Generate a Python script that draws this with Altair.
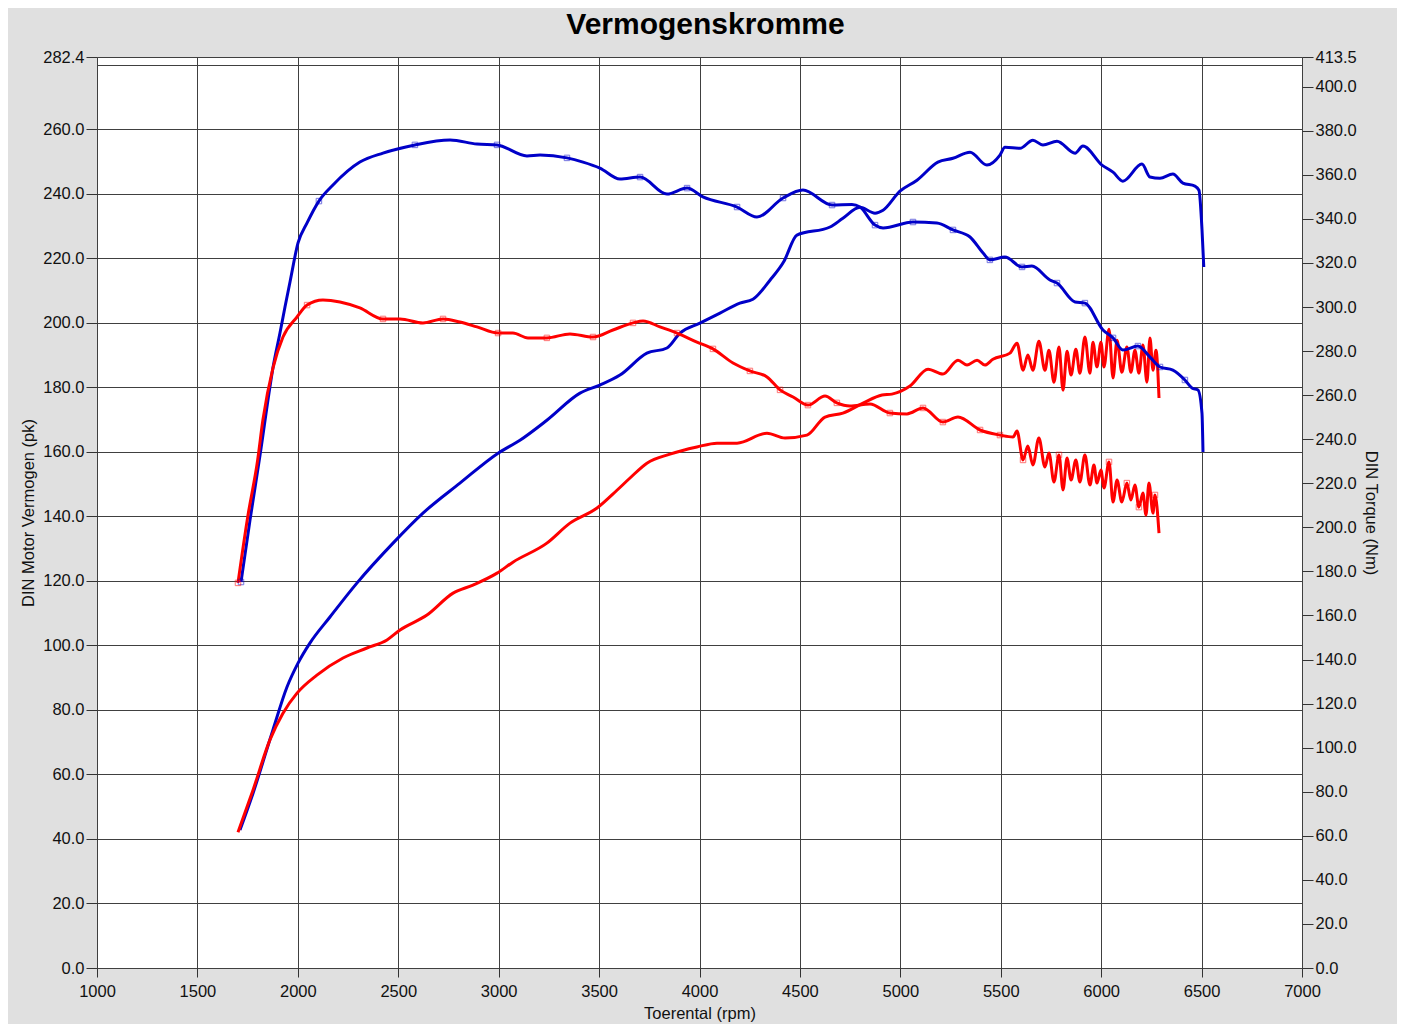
import altair as alt
import pandas as pd

# ---------------- data ----------------
# Blue run - power (pk, left axis)
BLUE_P_RPM = [1712, 1777, 1876, 1946, 2001, 2060, 2160, 2294, 2474, 2623, 2807, 2997, 3106, 3240,
              3405, 3504, 3604, 3738, 3838, 3903, 4002, 4102, 4201, 4266, 4351, 4420, 4485, 4650,
              4714, 4799, 4874, 4914, 4998, 5083, 5187, 5262, 5347, 5431, 5496, 5521, 5596, 5660,
              5710, 5780, 5870, 5909, 6004, 6059, 6108, 6203, 6243, 6293, 6357, 6407, 6467, 6487,
              6502, 6511]
BLUE_P_PK = [42.8, 54.2, 73.8, 87.1, 94.5, 100.7, 108.8, 119.3, 131.7, 141.0, 150.3, 159.6, 163.6, 169.8,
             178.2, 180.7, 183.8, 190.6, 192.2, 196.8, 199.9, 203.0, 206.1, 207.3, 213.2, 219.0, 227.2, 229.7,
             232.4, 235.8, 234.0, 234.9, 240.8, 244.2, 249.8, 251.0, 252.9, 248.9, 252.0, 254.4, 254.1, 256.6,
             255.1, 256.3, 252.6, 254.8, 248.9, 246.7, 243.9, 249.2, 245.2, 244.8, 246.1, 243.3, 242.4, 241.1,
             229.0, 217.3]

# Blue run - torque (Nm, right axis)
BLUE_T_RPM = [1717, 1762, 1812, 1861, 1876, 1911, 1936, 1961, 2001, 2046, 2105, 2175, 2309, 2424, 2583,
              2758, 2892, 2992, 3141, 3206, 3340, 3420, 3504, 3604, 3704, 3838, 3938, 4017, 4187, 4286,
              4416, 4515, 4660, 4759, 4799, 4874, 4914, 5063, 5182, 5262, 5347, 5412, 5446, 5521, 5606,
              5655, 5745, 5780, 5870, 5919, 6009, 6059, 6108, 6183, 6243, 6293, 6357, 6417, 6452, 6482,
              6502, 6507]
BLUE_T_NM = [175.2, 203.4, 232.9, 263.7, 272.3, 288.2, 300.0, 311.4, 329.1, 338.2, 348.1, 355.4, 365.8, 369.9, 373.6,
             375.8, 374.0, 373.6, 368.6, 369.0, 367.7, 365.8, 363.1, 358.1, 359.0, 351.3, 354.0, 350.0, 345.4, 340.9,
             349.5, 353.1, 346.3, 346.6, 345.4, 337.2, 335.9, 338.6, 338.2, 335.0, 331.8, 324.5, 321.4, 322.7, 318.2,
             318.6, 312.3, 310.9, 302.3, 301.8, 289.6, 286.0, 280.5, 282.3, 277.3, 272.8, 271.4, 266.9, 263.3, 262.4,
             251.9, 234.2]
BLUE_T_MARKS = [1717, 2105, 2583, 2992, 3340, 3704, 3938, 4187, 4416, 4660, 4874, 5063, 5262, 5446,
                5606, 5780, 5919, 6059, 6183, 6293, 6417]

# Red run - power (pk, left axis)
RED_P_RPM = [1702, 1777, 1861, 1926, 1996, 2095, 2225, 2344, 2444, 2509, 2643, 2773, 2872, 2992, 3071,
             3240, 3355, 3490, 3589, 3654, 3738, 3853, 3987, 4087, 4187, 4336, 4426, 4535, 4625, 4714,
             4814, 4909, 4958, 5048, 5138, 5212, 5287, 5332, 5382, 5421, 5461, 5546, 5581, 5611, 5635,
             5660, 5690, 5720, 5740, 5765, 5790, 5810, 5830, 5850, 5874, 5894, 5919, 5944, 5959, 5979,
             5999, 6014, 6039, 6059, 6079, 6103, 6128, 6148, 6168, 6188, 6208, 6228, 6243, 6258, 6273,
             6288]
RED_P_PK = [42.1, 55.2, 70.7, 79.0, 85.2, 90.8, 96.1, 99.2, 101.7, 104.8, 109.4, 116.2, 118.7, 122.4, 125.8,
            131.7, 137.9, 142.6, 148.1, 151.9, 156.5, 159.3, 161.5, 162.7, 162.7, 165.8, 164.3, 165.2, 170.8, 172.0,
            175.1, 177.6, 177.9, 180.4, 185.6, 184.1, 188.4, 186.9, 188.4, 186.9, 188.7, 190.6, 193.7, 185.3, 190.0,
            185.3, 194.3, 185.3, 191.5, 181.6, 192.5, 179.1, 191.2, 183.8, 191.8, 184.4, 195.6, 184.4, 194.0, 186.3,
            194.0, 186.3, 198.0, 182.9, 194.6, 184.7, 192.5, 184.7, 191.5, 184.4, 193.1, 181.6, 195.3, 185.3, 191.5,
            176.7]

# Red run - torque (Nm, right axis)
RED_T_RPM = [1702, 1752, 1800, 1826, 1876, 1926, 1996, 2046, 2125, 2210, 2309, 2424, 2509, 2623, 2723,
             2807, 2892, 2997, 3071, 3146, 3240, 3355, 3470, 3569, 3669, 3719, 3803, 3888, 3987, 4067,
             4167, 4251, 4336, 4401, 4466, 4540, 4625, 4684, 4749, 4849, 4948, 5033, 5113, 5212, 5287,
             5397, 5496, 5561, 5581, 5611, 5635, 5660, 5690, 5720, 5740, 5765, 5790, 5810, 5830, 5850,
             5874, 5894, 5919, 5944, 5964, 5979, 5999, 6014, 6039, 6059, 6079, 6103, 6128, 6148, 6168,
             6188, 6208, 6223, 6238, 6258, 6268, 6288]
RED_T_NM = [174.8, 205.6, 230.6, 248.7, 272.3, 286.4, 295.5, 300.9, 303.2, 302.3, 299.6, 294.6, 294.6, 292.8, 294.6,
            293.2, 291.0, 288.2, 288.2, 286.0, 286.0, 287.8, 286.4, 289.6, 292.8, 293.7, 291.0, 288.2, 284.1, 281.0,
            274.6, 271.0, 268.3, 262.4, 259.2, 255.5, 259.6, 256.5, 255.1, 256.0, 251.9, 251.5, 254.2, 247.8, 250.1,
            244.2, 241.9, 241.0, 243.7, 230.6, 236.9, 228.3, 240.6, 227.4, 233.8, 220.6, 232.9, 217.0, 231.5, 221.5,
            230.6, 220.6, 232.9, 219.2, 228.3, 220.1, 226.0, 217.9, 229.7, 211.5, 221.5, 211.5, 220.1, 212.4, 219.2,
            209.2, 215.6, 205.6, 220.1, 206.5, 214.7, 197.4]
RED_T_MARKS = [1702, 2046, 2424, 2723, 2997, 3240, 3470, 3669, 3888, 4067, 4251, 4401, 4540, 4684,
               4948, 5113, 5212, 5397, 5496, 5611, 5790, 6039, 6128, 6188, 6268]

X_TICKS = list(range(1000, 7001, 500))
LEFT_TICKS = [float(v) for v in range(0, 281, 20)] + [282.4]
RIGHT_TICKS = [float(v) for v in range(0, 401, 20)] + [413.5]
LEFT_MAX = 282.4
RIGHT_MAX = 413.5

# ---------------- frames ----------------
power = pd.concat([
    pd.DataFrame({"rpm": BLUE_P_RPM, "pk": BLUE_P_PK, "run": "blauw"}),
    pd.DataFrame({"rpm": RED_P_RPM, "pk": RED_P_PK, "run": "rood"}),
])
torque = pd.concat([
    pd.DataFrame({"rpm": BLUE_T_RPM, "nm": BLUE_T_NM, "run": "blauw"}),
    pd.DataFrame({"rpm": RED_T_RPM, "nm": RED_T_NM, "run": "rood"}),
])
bt = pd.DataFrame({"rpm": BLUE_T_RPM, "nm": BLUE_T_NM, "run": "blauw"})
rt = pd.DataFrame({"rpm": RED_T_RPM, "nm": RED_T_NM, "run": "rood"})
marks = pd.concat([bt[bt.rpm.isin(BLUE_T_MARKS)], rt[rt.rpm.isin(RED_T_MARKS)]])

FONT = "Liberation Sans"
line_color = alt.Color("run:N", scale=alt.Scale(domain=["blauw", "rood"], range=["#0000c8", "#ff0000"]), legend=None)

x_enc = alt.X("rpm:Q", scale=alt.Scale(domain=[1000, 7000], nice=False, zero=False),
              axis=alt.Axis(values=X_TICKS, format="d", title="Toerental (rpm)", grid=True,
                            gridColor="#404040", gridWidth=1, gridOpacity=1, domain=False,
                            labelFlush=False, tickColor="#333333", tickSize=9,
                            labelPadding=6, titlePadding=6))

left_axis = alt.Axis(values=LEFT_TICKS, title="DIN Motor Vermogen (pk)", grid=True,
                     gridColor="#404040", gridWidth=1, gridOpacity=1, domain=False, labelFlush=False,
                     labelExpr="datum.value == 280 ? '' : format(datum.value, '.1f')",
                     tickOpacity={"condition": {"test": "datum.value == 280", "value": 0}, "value": 1},
                     tickColor="#333333", tickSize=11, labelPadding=2, titlePadding=6)
right_axis = alt.Axis(values=RIGHT_TICKS, orient="right", title="DIN Torque (Nm)", grid=False,
                      format=".1f", domain=False, labelFlush=False, tickColor="#333333", tickSize=11,
                      labelPadding=2, titlePadding=6)

power_lines = alt.Chart(power).mark_line(strokeWidth=3, clip=True, interpolate="monotone").encode(
    x=x_enc,
    y=alt.Y("pk:Q", scale=alt.Scale(domain=[0, LEFT_MAX], nice=False, zero=True), axis=left_axis),
    color=line_color,
    detail="run:N",
)

torque_y = alt.Y("nm:Q", scale=alt.Scale(domain=[0, RIGHT_MAX], nice=False, zero=True), axis=right_axis)
torque_lines = alt.Chart(torque).mark_line(strokeWidth=3, clip=True, interpolate="monotone").encode(
    x=x_enc, y=torque_y, color=line_color, detail="run:N",
)
torque_marks = alt.Chart(marks).mark_point(shape="square", filled=False, size=30, strokeWidth=1,
                                           opacity=0.55).encode(
    x=x_enc, y=torque_y, color=line_color,
)

chart = alt.layer(
    power_lines,
    alt.layer(torque_lines, torque_marks),
).resolve_scale(y="independent").properties(
    width=1205,
    height=911,
    autosize=alt.AutoSizeParams(type="none"),
    padding={"left": 89, "top": 49, "right": 95, "bottom": 56},
    background="#e0e0e0",
    title=alt.TitleParams("Vermogenskromme", fontSize=30, fontWeight="bold", font=FONT,
                          anchor="middle", offset=9, dx=6, color="#000000"),
).configure_view(
    fill="#ffffff", stroke="#a0a0a0", strokeWidth=1,
).configure_axis(
    labelFont=FONT, titleFont=FONT, labelFontSize=16.5, titleFontSize=16.5,
    labelColor="#111111", titleColor="#111111", titleFontWeight="normal",
)

chart.save("out.html", embed_options={"renderer": "svg", "actions": False})
